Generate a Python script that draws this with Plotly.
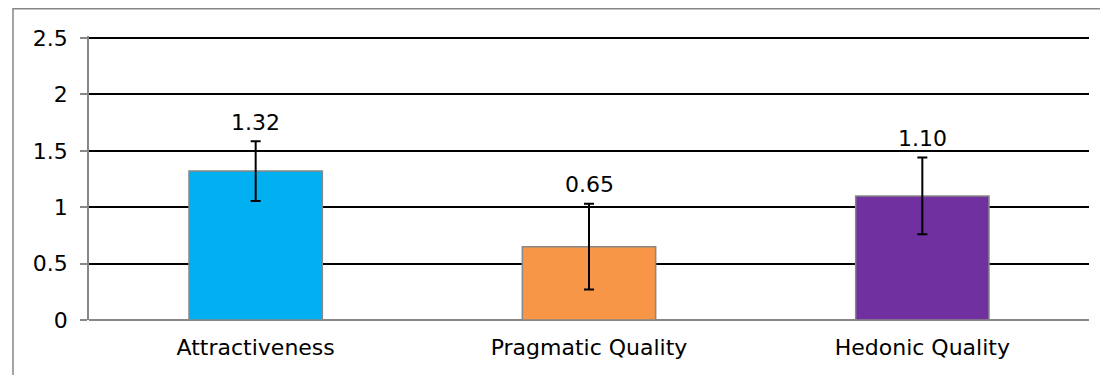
import plotly.graph_objects as go

categories = ["Attractiveness", "Pragmatic Quality", "Hedonic Quality"]
means = [1.32, 0.65, 1.10]
errors = [0.265, 0.38, 0.34]
labels = ["1.32", "0.65", "1.10"]
colors = ["#00B0F0", "#F79646", "#7030A0"]
y_ticks = [0, 0.5, 1, 1.5, 2, 2.5]
y_tick_text = ["0", "0.5", "1", "1.5", "2", "2.5"]

FONT = "DejaVu Sans"
FS = 22
PLOT_H = 284
TOP = 28

fig = go.Figure()
fig.add_trace(go.Bar(
    x=categories,
    y=means,
    marker=dict(color=colors, line=dict(color="#878787", width=1.5)),
    error_y=dict(type="data", array=errors, visible=True,
                 color="black", thickness=2, width=5),
    hoverinfo="skip",
))

for c, m, e, t in zip(categories, means, errors, labels):
    fig.add_annotation(x=c, y=m + e, text=t, showarrow=False,
                       yanchor="middle", yshift=19,
                       font=dict(family=FONT, size=FS, color="black"))

# outer chart border (page body has an 8px offset)
fig.add_shape(type="rect", xref="paper", yref="paper",
              x0=-0.076, x1=1.03, y0=-0.25, y1=(PLOT_H + TOP - 0.75) / PLOT_H,
              line=dict(color="#878787", width=1.5), layer="above")

fig.update_layout(
    width=1100, height=367,
    margin=dict(l=81, r=19, t=TOP, b=367 - TOP - PLOT_H),
    paper_bgcolor="white", plot_bgcolor="white",
    bargap=0.6,
    showlegend=False,
    font=dict(family=FONT, size=FS, color="black"),
    xaxis=dict(showgrid=False, showline=False, ticks="",
               tickfont=dict(family=FONT, size=FS, color="black"),
               ticklabelstandoff=12),
    yaxis=dict(range=[0, 2.5177], tickvals=y_ticks, ticktext=y_tick_text,
               showgrid=True, gridcolor="black", gridwidth=1.5,
               showline=True, linecolor="#878787", linewidth=1.5,
               ticks="outside", ticklen=7, tickcolor="#878787", tickwidth=1.5,
               zeroline=True, zerolinecolor="#878787", zerolinewidth=1.5,
               tickfont=dict(family=FONT, size=FS, color="black"),
               ticklabelstandoff=8),
)

fig.write_html("out.html")
